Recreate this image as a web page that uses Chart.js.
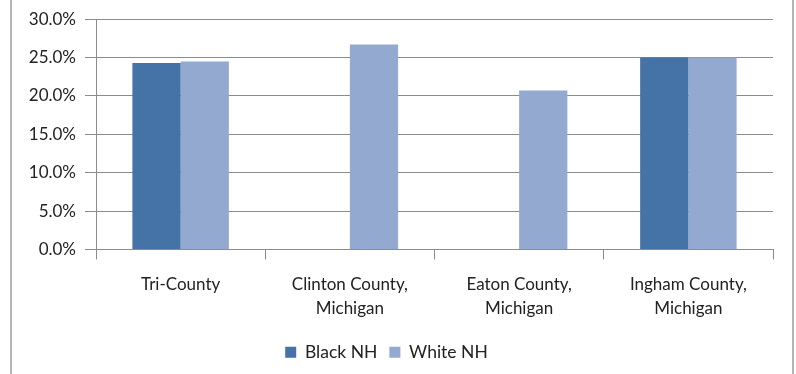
<!DOCTYPE html>
<html lang="en">
<head>
    <meta charset="UTF-8">
    <title>Black NH vs White NH</title>
    <script src="https://cdn.jsdelivr.net/npm/chart.js"></script>
    <style>
        body { margin: 0; background: #fff; }
        #chart-container { width: 796px; height: 374px; }
    </style>
</head>
<body>
    <div id="chart-container">
        <canvas id="barChart"></canvas>
    </div>
    <script>
        const categories = [
            ['Tri-County'],
            ['Clinton County,', 'Michigan'],
            ['Eaton County,', 'Michigan'],
            ['Ingham County,', 'Michigan']
        ];
        const blackNH = [24.3, 0, 0, 25.0];
        const whiteNH = [24.5, 26.7, 20.7, 25.0];

        const fontFamily = 'Lato, "Open Sans", sans-serif';
        const textColor = '#222';
        const gridColor = '#8c8c8c';

        // grey frame lines at the left and right edges
        const framePlugin = {
            id: 'frame',
            afterDraw(chart) {
                const c = chart.ctx;
                c.save();
                c.strokeStyle = '#b4b4b4';
                c.lineWidth = 2;
                c.beginPath();
                c.moveTo(11, 0); c.lineTo(11, chart.height);
                c.moveTo(793, 0); c.lineTo(793, chart.height);
                c.stroke();
                c.restore();
            }
        };

        const ctx = document.getElementById('barChart').getContext('2d');
        new Chart(ctx, {
            type: 'bar',
            data: {
                labels: categories,
                datasets: [{
                    label: 'Black NH',
                    data: blackNH,
                    backgroundColor: '#4572a7',
                    borderWidth: 0
                }, {
                    label: 'White NH',
                    data: whiteNH,
                    backgroundColor: '#94a9d0',
                    borderWidth: 0
                }]
            },
            options: {
                responsive: true,
                maintainAspectRatio: false,
                animation: false,
                layout: { padding: { left: 0, right: 23, top: 19, bottom: 3 } },
                datasets: {
                    bar: { categoryPercentage: 0.57, barPercentage: 1.0 }
                },
                plugins: {
                    legend: {
                        position: 'bottom',
                        labels: {
                            boxWidth: 11,
                            boxHeight: 11,
                            padding: 12,
                            color: textColor,
                            font: { family: fontFamily, size: 17.5 }
                        }
                    },
                    tooltip: { enabled: false }
                },
                scales: {
                    x: {
                        offset: true,
                        grid: {
                            offset: true,
                            drawOnChartArea: false,
                            color: gridColor,
                            tickLength: 10
                        },
                        border: { color: gridColor },
                        ticks: {
                            color: textColor,
                            padding: 13,
                            maxRotation: 0,
                            font: { family: fontFamily, size: 17, lineHeight: 1.4 }
                        },
                        afterFit(scale) { scale.height = 82; }
                    },
                    y: {
                        min: 0,
                        max: 30,
                        ticks: {
                            stepSize: 5,
                            color: textColor,
                            padding: 9,
                            font: { family: fontFamily, size: 17 },
                            callback: v => v.toFixed(1) + '%'
                        },
                        grid: { color: gridColor, tickLength: 11 },
                        border: { color: gridColor },
                        afterFit(scale) { scale.width = 96; }
                    }
                }
            },
            plugins: [framePlugin]
        });
    </script>
</body>
</html>
